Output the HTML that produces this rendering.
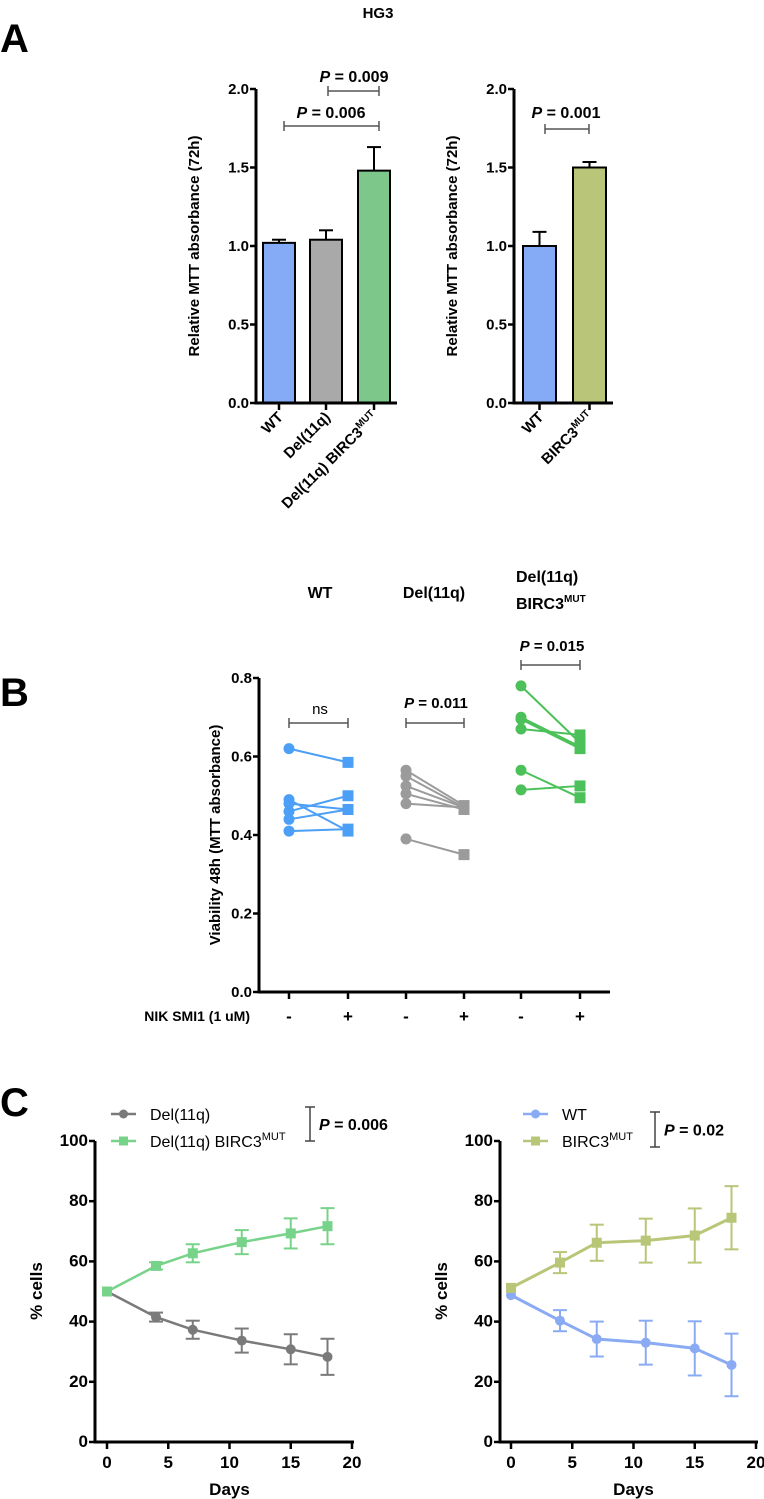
<!DOCTYPE html>
<html><head><meta charset="utf-8"><style>
body{margin:0;background:#fff}
svg{display:block;font-family:"Liberation Sans",sans-serif}
</style></head><body>
<svg id="fig" width="764" height="1499" viewBox="0 0 764 1499">
<text x="378" y="18" font-size="15" font-weight="bold" text-anchor="middle">HG3</text>
<text x="0" y="52" font-size="40" font-weight="bold">A</text>
<text x="0" y="706" font-size="40" font-weight="bold">B</text>
<text x="0" y="1116" font-size="40" font-weight="bold">C</text>
<g id="g"></g>
</svg>
<script>
// Panel A left
const aLCats=["WT","Del(11q)","Del(11q) BIRC3"];
const aLVals=[1.02,1.04,1.48];
const aLErr=[0.02,0.06,0.15];
// Panel A right
const aRCats=["WT","BIRC3"];
const aRVals=[1.0,1.5];
const aRErr=[0.09,0.035];
const aTicks=[0,0.5,1.0,1.5,2.0];
// Panel B
const bGroups=["WT","Del(11q)","Del(11q) BIRC3"];
const bPre=[[0.62,0.49,0.48,0.46,0.44,0.41],[0.565,0.55,0.525,0.505,0.48,0.39],[0.78,0.70,0.695,0.67,0.565,0.515]];
const bPost=[[0.585,0.41,0.465,0.50,0.465,0.415],[0.475,0.47,0.47,0.465,0.47,0.35],[0.635,0.625,0.62,0.655,0.495,0.525]];
const bTicks=[0,0.2,0.4,0.6,0.8];
// Panel C
const cDays=[0,4,7,11,15,18];
const cDel=[50,41.5,37.3,33.7,30.8,28.3];
const cDelErr=[0.8,1.5,3,4,5,6];
const cBirc=[50,58.5,62.7,66.4,69.3,71.7];
const cBircErr=[0.8,1.2,3,4,5,6];
const cWT=[48.8,40.3,34.2,33.0,31.1,25.6];
const cWTErr=[0.5,3.5,5.8,7.3,9,10.4];
const cMut=[51.2,59.6,66.2,66.9,68.6,74.5];
const cMutErr=[0.5,3.5,6,7.3,9,10.5];
const cXTicks=[0,5,10,15,20];
const cYTicks=[0,20,40,60,80,100];

const NS="http://www.w3.org/2000/svg";
const G=document.getElementById('g');
function el(tag,attrs,parent,text){const e=document.createElementNS(NS,tag);for(const k in attrs)e.setAttribute(k,attrs[k]);if(text!==undefined)e.textContent=text;(parent||G).appendChild(e);return e;}
function line(x1,y1,x2,y2,c,w,name){const e=el('line',{x1,y1,x2,y2,stroke:c,'stroke-width':w});

return e;}
function txt(x,y,s,size,anchor,name,extra){const e=el('text',Object.assign({x,y,'font-size':size,'font-weight':'bold','text-anchor':anchor||'middle'},extra||{}),G,s);

return e;}
function pText(x,y,val,size,anchor,name){const e=txt(x,y,'',size,anchor,name);
el('tspan',{'font-style':'italic'},e,'P');el('tspan',{},e,' = '+val);return e;}
function bracketH(x1,x2,y,name){line(x1,y,x2,y,'#555',1.5,name);line(x1,y-5,x1,y+5,'#555',1.5,name+'-cap');line(x2,y-5,x2,y+5,'#555',1.5,name+'-cap');}
function yAxis(x,yTop,yBot,ticks,vmin,vmax,fmt,name,size){
  line(x,yTop,x,yBot+1.5,'#000',3,name);
  ticks.forEach(t=>{const y=yBot-(t-vmin)/(vmax-vmin)*(yBot-yTop);line(x-6,y,x,y,'#000',2.5,name+'-tick');txt(x-7,y+5,fmt(t),size||15,'end',name+'-label');});
}
// ---------- Panel A ----------
function barPanel(ax,axEnd,cats,vals,errs,barX,barW,colors,title,prefix,sups){
  const y0=403,y2=89,s=v=>y0-v/2*(y0-y2);
  cats.forEach((c,i)=>{
    const bx=barX[i];const r=el('rect',{x:bx,y:s(vals[i]),width:barW,height:y0-s(vals[i]),fill:colors[i],stroke:'#000','stroke-width':2});
    
    
    const cx=bx+barW/2;
    line(cx,s(vals[i]),cx,s(vals[i]+errs[i]),'#000',2,prefix+'-error-bar');
    line(cx-7,s(vals[i]+errs[i]),cx+7,s(vals[i]+errs[i]),'#000',2,prefix+'-error-cap');
    line(cx,y0,cx,y0+7,'#000',2.5,prefix+'-x-tick');
    const t=txt(0,0,c,15,'end',prefix+'-x-label',{transform:`translate(${cx+5},${y0+15}) rotate(-45)`});
    if(sups[i]){el('tspan',{'font-size':10,dy:-6},t,'MUT');}
  });
  line(ax,y0,axEnd,y0,'#000',3,prefix+'-x-axis');
  yAxis(ax,y2,y0,aTicks,0,2,v=>v.toFixed(1),prefix+'-y-axis',15);
  txt(0,0,title,15,'middle',prefix+'-y-axis-title',{transform:`translate(${ax-57},246) rotate(-90)`});
}
barPanel(256,397,aLCats,aLVals,aLErr,[263,310,358],32,['#86abf6','#a9a9a9','#7ec78a'],'Relative MTT absorbance (72h)','a-left',[0,0,1]);
bracketH(328,379,91,'a-left-bracket-009');pText(354,82,'0.009',16,'middle','a-left-p-009');
bracketH(284,379,126,'a-left-bracket-006');pText(331,118,'0.006',16,'middle','a-left-p-006');
barPanel(514,613,aRCats,aRVals,aRErr,[523,573],33,['#86abf6','#b9c67a'],'Relative MTT absorbance (72h)','a-right',[0,1]);
bracketH(545,589,129,'a-right-bracket');pText(566,118,'0.001',16,'middle','a-right-p-001');

// ---------- Panel B ----------
(function(){
  const ax=259,y0=992,yT=678,s=v=>y0-v/0.8*(y0-yT);
  const xs=[289,348,406,464,521,580];
  const cols=['#4b9ff6','#9b9b9b','#4cc15a'];
  bGroups.forEach((gname,gi)=>{
    const xa=xs[gi*2],xb=xs[gi*2+1];
    bPre[gi].forEach((v,j)=>{
      line(xa,s(v),xb,s(bPost[gi][j]),cols[gi],2,'b-pair-line');
    });
    bPre[gi].forEach(v=>{const c=el('circle',{cx:xa,cy:s(v),r:5.5,fill:cols[gi]});
      
      });
    bPost[gi].forEach(v=>{const r=el('rect',{x:xb-5.5,y:s(v)-5.5,width:11,height:11,fill:cols[gi]});
      
      });
    [xa,xb].forEach((x,k)=>{line(x,y0,x,y0+7,'#000',2.5,'b-x-tick');txt(x,y0+30,k?'+':'-',17,'middle','b-x-label');});
  });
  line(ax,y0,610,y0,'#000',3,'b-x-axis');
  yAxis(ax,yT,y0,bTicks,0,0.8,v=>v.toFixed(1),'b-y-axis',15);
  txt(0,0,'Viability 48h (MTT absorbance)',15,'middle','b-y-axis-title',{transform:'translate(220,835) rotate(-90)'});
  txt(250,1021,'NIK SMI1 (1 uM)',14,'end','b-treatment-label');
  txt(320,598,'WT',16,'middle','b-group-wt');
  txt(434,598,'Del(11q)',16,'middle','b-group-del11q');
  txt(516,582,'Del(11q)',16,'start','b-group-del11q-birc3');
  const t=txt(516,609,'BIRC3',16,'start','b-group-del11q-birc3-line2');el('tspan',{'font-size':10,dy:-7},t,'MUT');
  bracketH(289,348,723,'b-bracket-wt');txt(320,714,'ns',15,'middle','b-ns-label',{'font-weight':'normal'});
  bracketH(406,464,723,'b-bracket-del');pText(436,708,'0.011',15,'middle','b-p-011');
  bracketH(521,580,665,'b-bracket-birc');pText(552,651,'0.015',15,'middle','b-p-015');
})();

// ---------- Panel C ----------
function linePanel(ax,x0,x20,series,names,cols,shapes,pval,bx,prefix){
  const y0=1442,yT=1141,sy=v=>y0-v/100*(y0-yT),sx=d=>x0+d/20*(x20-x0);
  line(ax,y0,x20+2,y0,'#000',3,prefix+'-x-axis');
  cXTicks.forEach(t=>{line(sx(t),y0,sx(t),y0+7,'#000',2.5,prefix+'-x-tick');txt(sx(t),y0+26,String(t),17,'middle',prefix+'-x-label');});
  yAxis(ax,yT,y0,cYTicks,0,100,v=>String(v),prefix+'-y-axis',17);
  txt(sx(10),y0+53,'Days',17,'middle',prefix+'-x-axis-title');
  txt(0,0,'% cells',17,'middle',prefix+'-y-axis-title',{transform:`translate(${ax-53},1291) rotate(-90)`});
  series.forEach((sr,i)=>{
    const [vals,errs]=sr;
    const p=el('polyline',{points:vals.map((v,j)=>sx(cDays[j])+','+sy(v)).join(' '),fill:'none',stroke:cols[i],'stroke-width':prefix==='c-right'?3:2.5});
    
    
    vals.forEach((v,j)=>{
      const x=sx(cDays[j]);
      if(errs[j]>1){line(x,sy(v-errs[j]),x,sy(v+errs[j]),cols[i],2,prefix+'-error-bar');
        line(x-7,sy(v+errs[j]),x+7,sy(v+errs[j]),cols[i],2,prefix+'-error-cap');
        line(x-7,sy(v-errs[j]),x+7,sy(v-errs[j]),cols[i],2,prefix+'-error-cap');}
      let m;
      if(shapes[i]==='c')m=el('circle',{cx:x,cy:sy(v),r:5,fill:cols[i]});
      else m=el('rect',{x:x-5,y:sy(v)-5,width:10,height:10,fill:cols[i]});
      
      
    });
    const ly=1114+i*27,lx=bx.lx;
    line(lx,ly,lx+25,ly,cols[i],2.5,prefix+'-legend-line');
    let lm;
    if(shapes[i]==='c')lm=el('circle',{cx:lx+12.5,cy:ly,r:4.5,fill:cols[i]});
    else lm=el('rect',{x:lx+8,y:ly-4.5,width:9,height:9,fill:cols[i]});
    
    
    const t=txt(lx+39,ly+6,names[i][0],16,'start',prefix+'-legend-entry',{'font-weight':'normal'});
    if(names[i][1])el('tspan',{'font-size':11,dy:-7},t,names[i][1]);
  });
  line(bx.x,bx.y1,bx.x,bx.y2,'#444',1.5,prefix+'-p-bracket');
  line(bx.x-5,bx.y1,bx.x+5,bx.y1,'#444',1.5,prefix+'-p-bracket-cap');
  line(bx.x-5,bx.y2,bx.x+5,bx.y2,'#444',1.5,prefix+'-p-bracket-cap');
  pText(bx.x+9,(bx.y1+bx.y2)/2+6,pval,16,'start',prefix+'-p-value');
}
linePanel(95,107,352,[[cDel,cDelErr],[cBirc,cBircErr]],[['Del(11q)',''],['Del(11q) BIRC3','MUT']],['#7a7a7a','#78d38a'],['c','s'],'0.006',{x:310,y1:1107,y2:1141,lx:111},'c-left');
linePanel(500,511,756,[[cWT,cWTErr],[cMut,cMutErr]],[['WT',''],['BIRC3','MUT']],['#8aabf4','#b8c678'],['c','s'],'0.02',{x:655,y1:1112,y2:1147,lx:523},'c-right');
</script>
</body></html>
